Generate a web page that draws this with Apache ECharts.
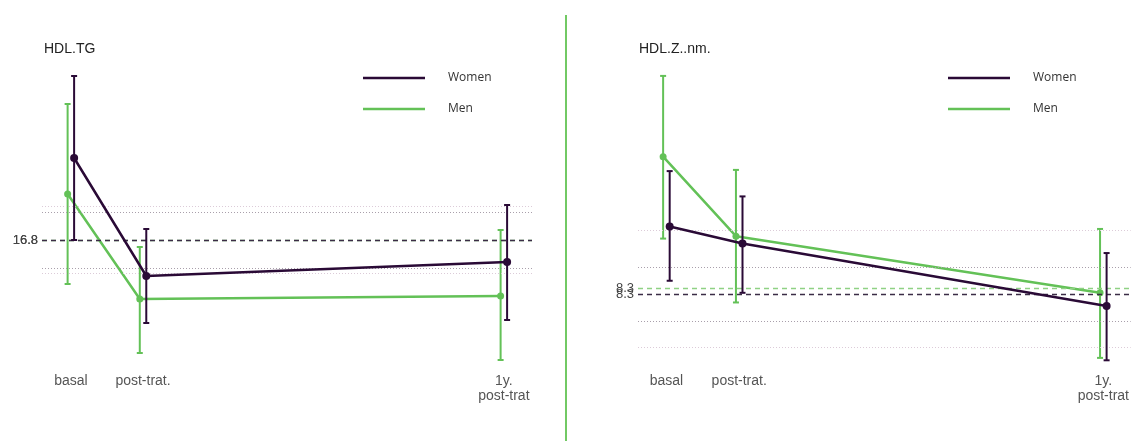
<!DOCTYPE html>
<html>
<head>
<meta charset="utf-8">
<script src="https://cdn.jsdelivr.net/npm/echarts@6/dist/echarts.min.js"></script>
<style>
  html, body { margin: 0; padding: 0; background: #fff; }
  #chart { width: 1132px; height: 441px; }
</style>
</head>
<body>
<div id="chart"></div>
<script>
// Time points (months after baseline) and their labels
const categories = ['basal', 'post-trat.', '1y.\npost-trat'];
const months = [0, 2, 12];

// HDL.TG — group means with error-bar limits
const tgWomen = [25.0, 13.2, 14.6];
const tgWomenLow = [16.8, 8.5, 8.8];
const tgWomenHigh = [33.2, 17.9, 20.3];
const tgMen = [21.4, 10.9, 11.2];
const tgMenLow = [12.4, 5.5, 4.8];
const tgMenHigh = [30.4, 16.1, 17.8];
// reference mean and spread: [women, men]
const tgRefMean = [16.8, 16.8];
const tgRefSd = [2.8, 3.35];

// HDL.Z..nm. — group means with error-bar limits
const zWomen = [8.84, 8.70, 8.18];
const zWomenLow = [8.39, 8.29, 7.73];
const zWomenHigh = [9.30, 9.09, 8.62];
const zMen = [9.42, 8.76, 8.29];
const zMenLow = [8.74, 8.21, 7.75];
const zMenHigh = [10.09, 9.31, 8.82];
const zRefMean = [8.28, 8.33];
const zRefSd = [0.225, 0.485];

const WOMEN = '#2a0a36';
const MEN = '#63c157';
const DODGE = 0.09;

function linePoints(vals, shift) {
  return months.map((m, i) => [m + shift, vals[i]]);
}
function barPoints(lo, hi, shift) {
  return months.map((m, i) => [m + shift, lo[i], hi[i]]);
}

function errorBars(color) {
  return function (params, api) {
    const x = api.value(0);
    const a = api.coord([x, api.value(1)]);
    const b = api.coord([x, api.value(2)]);
    const st = { stroke: color, lineWidth: 2 };
    return {
      type: 'group',
      children: [
        { type: 'line', shape: { x1: a[0], y1: a[1], x2: b[0], y2: b[1] }, style: st },
        { type: 'line', shape: { x1: a[0] - 3, y1: a[1], x2: a[0] + 3, y2: a[1] }, style: st },
        { type: 'line', shape: { x1: b[0] - 3, y1: b[1], x2: b[0] + 3, y2: b[1] }, style: st }
      ]
    };
  };
}

function refLines(mean, sd, meanColor, bandColor) {
  return {
    silent: true,
    symbol: ['none', 'none'],
    animation: false,
    label: {
      show: true, position: 'start', distance: 4,
      color: '#444', fontSize: 13, fontFamily: 'Liberation Sans',
      formatter: p => p.value.toFixed(1)
    },
    data: [
      { yAxis: mean, lineStyle: { color: meanColor, type: [5, 4], width: 1.4 } },
      { yAxis: mean + sd, label: { show: false }, lineStyle: { color: bandColor, type: [1, 2], width: 1.2 } },
      { yAxis: mean - sd, label: { show: false }, lineStyle: { color: bandColor, type: [1, 2], width: 1.2 } }
    ]
  };
}

function panelSeries(idx, w, wl, wh, m, ml, mh, refMean, refSd) {
  return [
    {
      type: 'line', name: 'Men', xAxisIndex: idx, yAxisIndex: idx, z: 4,
      data: linePoints(m, -DODGE), symbol: 'circle', symbolSize: 7,
      itemStyle: { color: MEN }, lineStyle: { color: MEN, width: 2.5 },
      markLine: refLines(refMean[1], refSd[1], '#8fd184', '#dccbd8')
    },
    {
      type: 'custom', name: 'Men', xAxisIndex: idx, yAxisIndex: idx, z: 3,
      itemStyle: { color: MEN },
      renderItem: errorBars(MEN), data: barPoints(ml, mh, -DODGE)
    },
    {
      type: 'line', name: 'Women', xAxisIndex: idx, yAxisIndex: idx, z: 6,
      data: linePoints(w, DODGE), symbol: 'circle', symbolSize: 8,
      itemStyle: { color: WOMEN }, lineStyle: { color: WOMEN, width: 2.5 },
      markLine: refLines(refMean[0], refSd[0], '#3b2c46', '#a99fab')
    },
    {
      type: 'custom', name: 'Women', xAxisIndex: idx, yAxisIndex: idx, z: 5,
      itemStyle: { color: WOMEN },
      renderItem: errorBars(WOMEN), data: barPoints(wl, wh, DODGE)
    }
  ];
}

function xAxisFor(idx, min, max) {
  return {
    type: 'value', gridIndex: idx, min: min, max: max,
    splitLine: { show: false }, axisLine: { show: false }, axisTick: { show: false },
    axisLabel: {
      customValues: months, margin: 9,
      color: '#555', fontSize: 14, fontFamily: 'Liberation Sans', lineHeight: 15,
      formatter: v => categories[months.indexOf(v)]
    }
  };
}
function yAxisFor(idx, min, max) {
  return { type: 'value', gridIndex: idx, min: min, max: max, show: false, splitLine: { show: false } };
}
function legendFor(left) {
  return {
    left: left, top: 72, padding: 0, orient: 'vertical',
    data: [
      { name: 'Women', itemStyle: { color: WOMEN } },
      { name: 'Men', itemStyle: { color: MEN } }
    ],
    icon: 'rect', itemWidth: 62, itemHeight: 2.5, itemGap: 19,
    selectedMode: false,
    textStyle: { color: '#333', fontSize: 12, fontFamily: 'Open Sans', padding: [0, 0, 0, 18] }
  };
}

const chart = echarts.init(document.getElementById('chart'), null, { renderer: 'canvas' });
chart.setOption({
  animation: false,
  backgroundColor: '#fff',
  title: [
    { text: 'HDL.TG', left: 44, top: 42, padding: 0, textStyle: { color: '#222', fontSize: 14, fontWeight: 'normal', fontFamily: 'Liberation Sans' } },
    { text: 'HDL.Z..nm.', left: 639, top: 42, padding: 0, textStyle: { color: '#222', fontSize: 14, fontWeight: 'normal', fontFamily: 'Liberation Sans' } }
  ],
  legend: [legendFor(363), legendFor(948)],
  grid: [
    { left: 42, top: 60, width: 490, height: 305 },
    { left: 638, top: 60, width: 494, height: 305 }
  ],
  xAxis: [xAxisFor(0, -0.80, 12.78), xAxisFor(1, -0.78, 12.75)],
  yAxis: [yAxisFor(0, 4.3, 34.8), yAxisFor(1, 7.691, 10.222)],
  graphic: [
    { type: 'line', shape: { x1: 566, y1: 15, x2: 566, y2: 441 }, style: { stroke: '#72c964', lineWidth: 2 } }
  ],
  series: [
    ...panelSeries(0, tgWomen, tgWomenLow, tgWomenHigh, tgMen, tgMenLow, tgMenHigh, tgRefMean, tgRefSd),
    ...panelSeries(1, zWomen, zWomenLow, zWomenHigh, zMen, zMenLow, zMenHigh, zRefMean, zRefSd)
  ]
});
</script>
</body>
</html>
